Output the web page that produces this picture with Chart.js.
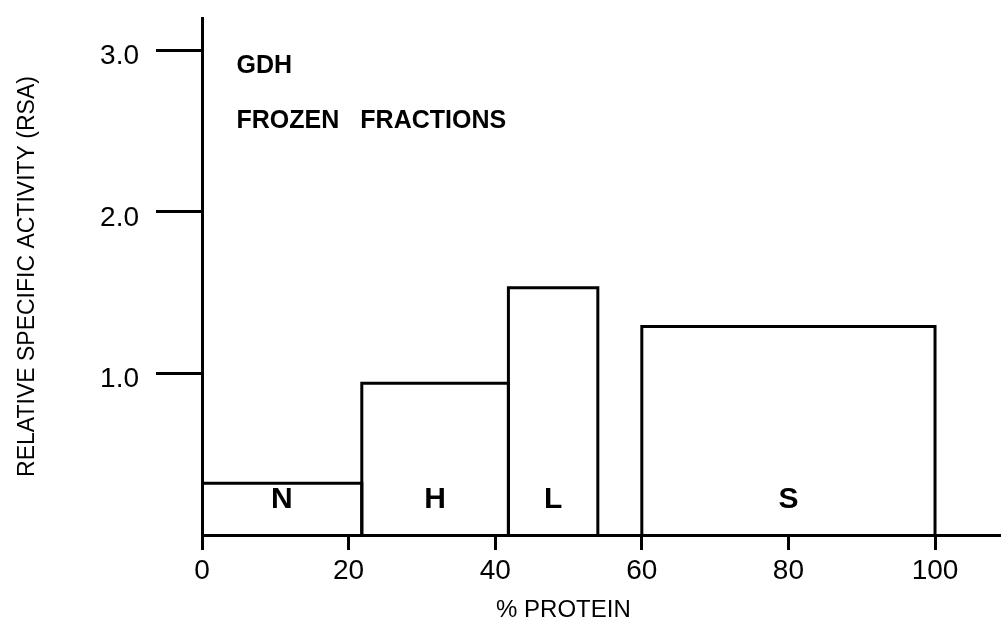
<!DOCTYPE html>
<html>
<head>
<meta charset="utf-8">
<title>GDH frozen fractions</title>
<script src="https://cdn.jsdelivr.net/npm/chart.js@4.4.1/dist/chart.umd.min.js"></script>
<style>
  html, body { margin: 0; padding: 0; background: #fff; }
  canvas { display: block; }
</style>
</head>
<body>
<canvas id="chart" width="1001" height="623"></canvas>
<script>
// fractions: nuclear, heavy, light, supernatant
var fractions = ['N', 'H', 'L', 'S'];
var startPct = [0, 21.8, 41.8, 60];
var endPct = [21.8, 41.8, 54, 100];
var rsa = [0.32, 0.94, 1.53, 1.29];

var xTicks = [0, 20, 40, 60, 80, 100];
var yTicks = [1, 2, 3];

var font = "'Liberation Sans', Arial, Helvetica, sans-serif";

// each fraction drawn as an open box standing on the baseline
var datasets = fractions.map(function (f, i) {
  return {
    label: f,
    data: [
      { x: startPct[i], y: 0 },
      { x: startPct[i], y: rsa[i] },
      { x: endPct[i], y: rsa[i] },
      { x: endPct[i], y: 0 }
    ],
    showLine: true,
    borderColor: '#000',
    borderWidth: 3,
    pointRadius: 0,
    fill: false,
    tension: 0
  };
});

var textPlugin = {
  id: 'texts',
  afterDatasetsDraw: function (chart) {
    var ctx = chart.ctx;
    var xs = chart.scales.x, ys = chart.scales.y;
    ctx.save();
    ctx.fillStyle = '#000';

    // fraction letters
    ctx.font = 'bold 30px ' + font;
    ctx.textAlign = 'center';
    ctx.textBaseline = 'middle';
    fractions.forEach(function (f, i) {
      var cx = xs.getPixelForValue((startPct[i] + endPct[i]) / 2);
      ctx.fillText(f, cx, ys.getPixelForValue(0.22));
    });

    // notes top left
    ctx.font = 'bold 25px ' + font;
    ctx.textAlign = 'left';
    ctx.textBaseline = 'alphabetic';
    ctx.fillText('GDH', xs.getPixelForValue(4.7), ys.getPixelForValue(2.86));
    ctx.fillText('FROZEN', xs.getPixelForValue(4.7), ys.getPixelForValue(2.52));
    ctx.fillText('FRACTIONS', xs.getPixelForValue(21.6), ys.getPixelForValue(2.52));

    // x caption
    ctx.font = '24px ' + font;
    ctx.textAlign = 'center';
    ctx.textBaseline = 'middle';
    ctx.fillText('% PROTEIN', xs.getPixelForValue(49.3), 610);
    ctx.restore();
  }
};

new Chart(document.getElementById('chart'), {
  type: 'scatter',
  data: { datasets: datasets },
  plugins: [textPlugin],
  options: {
    responsive: false,
    animation: false,
    devicePixelRatio: 1,
    layout: { padding: { top: 18, right: 0, left: 0, bottom: 0 } },
    plugins: {
      legend: { display: false },
      tooltip: { enabled: false }
    },
    scales: {
      x: {
        type: 'linear',
        min: 0,
        max: 109,
        afterBuildTicks: function (s) {
          s.ticks = xTicks.map(function (v) { return { value: v }; });
        },
        afterFit: function (s) {
          s.height = 88;
          s.paddingLeft = 0;
          s.paddingRight = 0;
        },
        grid: {
          display: true,
          drawOnChartArea: false,
          drawTicks: true,
          tickLength: 15,
          tickWidth: 3,
          tickColor: '#000'
        },
        border: { display: true, color: '#000', width: 3 },
        ticks: {
          color: '#000',
          font: { family: font, size: 28 },
          padding: 4,
          maxRotation: 0,
          autoSkip: false
        }
      },
      y: {
        type: 'linear',
        min: 0,
        max: 3.2,
        afterBuildTicks: function (s) {
          s.ticks = yTicks.map(function (v) { return { value: v }; });
        },
        afterFit: function (s) {
          s.width = 202;
          s.paddingTop = 0;
          s.paddingBottom = 0;
        },
        grid: {
          display: true,
          drawOnChartArea: false,
          drawTicks: true,
          tickLength: 46,
          tickWidth: 3,
          tickColor: '#000'
        },
        border: { display: true, color: '#000', width: 3 },
        ticks: {
          color: '#000',
          font: { family: font, size: 28 },
          padding: 17,
          labelOffset: 6,
          callback: function (v) { return v.toFixed(1); }
        },
        title: {
          display: true,
          text: 'RELATIVE SPECIFIC ACTIVITY (RSA)',
          color: '#000',
          font: { family: font, size: 23 },
          padding: { top: 14, bottom: 0 }
        }
      }
    }
  }
});
</script>
</body>
</html>
